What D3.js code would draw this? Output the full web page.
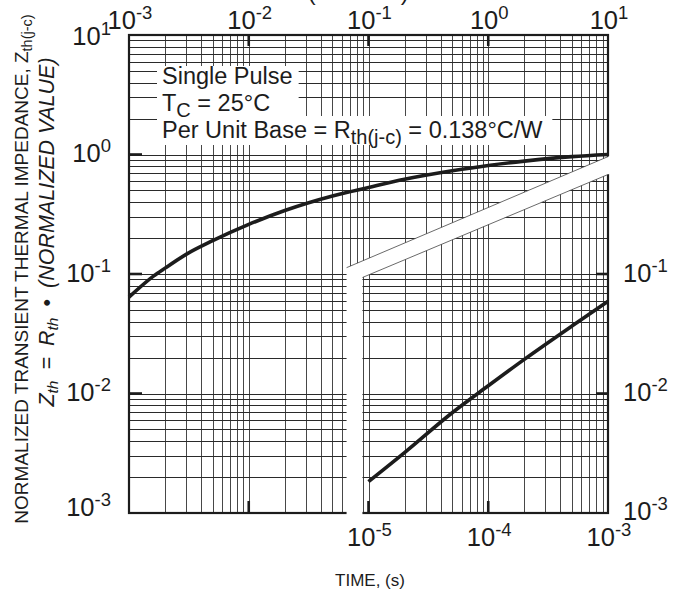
<!DOCTYPE html>
<html>
<head>
<meta charset="utf-8">
<script src="https://cdn.jsdelivr.net/npm/d3@7"></script>
<style>
  html, body { margin: 0; padding: 0; background: #fff; }
  svg { display: block; font-family: "Liberation Sans", Arial, Helvetica, sans-serif; }
</style>
</head>
<body>
<svg id="chart" width="685" height="592"></svg>
<script>
// Long-pulse response, read against the upper time scale (1 ms .. 10 s)
const longTime = [1e-3, 1.6e-3, 2e-3, 3e-3, 5e-3, 1e-2, 2e-2, 5e-2, 0.1, 0.2, 0.5, 1, 2, 5, 10];
const longZth  = [0.064, 0.096, 0.112, 0.146, 0.19, 0.26, 0.34, 0.45, 0.53, 0.62, 0.73, 0.81, 0.88, 0.96, 1.0];

// Short-pulse response, read against the lower time scale (10 us .. 1 ms)
const shortTime = [1e-5, 2e-5, 5e-5, 1e-4, 2e-4, 5e-4, 1e-3];
const shortZth  = [0.00183, 0.0032, 0.0069, 0.0116, 0.0193, 0.0367, 0.059];

// Axis tick values
const topTicks    = [1e-3, 1e-2, 1e-1, 1, 10];
const bottomTicks = [1e-5, 1e-4, 1e-3];
const leftTicks   = [10, 1, 0.1, 0.01, 0.001];
const rightTicks  = [0.1, 0.01, 0.001];

// Break between the two time scales, in upper-scale time / Zth units
const breakUpperEdge = [[0.0656, 0.113], [10, 0.96]];
const breakLowerEdge = [[0.089, 0.0935], [10, 0.68]];

const legendLines = [
  [{t: "Single Pulse"}],
  [{t: "T"}, {t: "C", sub: true}, {t: " = 25°C"}],
  [{t: "Per Unit Base = R"}, {t: "th(j-c)", sub: true}, {t: " = 0.138°C/W"}]
];

const svg = d3.select("#chart");
const L = 129, R = 608, T = 35, B = 513;
const ink = "#1c1c1c";

const xTop = d3.scaleLog().domain([1e-3, 10]).range([L, R]);
const xBot = d3.scaleLog().domain([1e-7, 1e-3]).range([L, R]);
const y    = d3.scaleLog().domain([1e-3, 10]).range([B, T]);

const crisp = v => Math.round(v) + 0.5;

// ---- log grid ----
const gridVals = [];
for (let e = -3; e <= 0; e++) for (let k = 1; k <= 9; k++) gridVals.push(k * Math.pow(10, e));
gridVals.push(10);

const grid = svg.append("g");
grid.selectAll("line.v").data(gridVals).join("line")
  .attr("x1", d => crisp(xTop(d))).attr("x2", d => crisp(xTop(d)))
  .attr("y1", T).attr("y2", B)
  .attr("stroke", "#474747").attr("stroke-width", 1);
grid.selectAll("line.h").data(gridVals).join("line")
  .attr("y1", d => crisp(y(d))).attr("y2", d => crisp(y(d)))
  .attr("x1", L).attr("x2", R)
  .attr("stroke", "#2a2a2a").attr("stroke-width", 1);

// ---- heavy decade ticks inside the frame ----
const ticks = svg.append("g").attr("stroke", ink).attr("stroke-width", 2.6);
ticks.selectAll("line.t").data(topTicks.slice(1, -1)).join("line")
  .attr("x1", d => xTop(d)).attr("x2", d => xTop(d)).attr("y1", T).attr("y2", T + 11);
ticks.selectAll("line.b").data([1e-6, 1e-5, 1e-4]).join("line")
  .attr("x1", d => xBot(d)).attr("x2", d => xBot(d)).attr("y1", B).attr("y2", B - 12);
ticks.selectAll("line.l").data(leftTicks.slice(1, -1)).join("line")
  .attr("y1", d => y(d)).attr("y2", d => y(d)).attr("x1", L).attr("x2", L + 13);
ticks.selectAll("line.r").data(rightTicks.slice(0, -1)).join("line")
  .attr("y1", d => y(d)).attr("y2", d => y(d)).attr("x1", R).attr("x2", R - 12);

// ---- frame ----
svg.append("rect").attr("x", L).attr("y", T).attr("width", R - L).attr("height", B - T)
  .attr("fill", "none").attr("stroke", ink).attr("stroke-width", 2.2);

// ---- scale break band ----
const pU0 = [xTop(breakUpperEdge[0][0]), y(breakUpperEdge[0][1])];
const pU1 = [xTop(breakUpperEdge[1][0]), y(breakUpperEdge[1][1])];
const pL0 = [xTop(breakLowerEdge[0][0]), y(breakLowerEdge[0][1])];
const pL1 = [xTop(breakLowerEdge[1][0]), y(breakLowerEdge[1][1])];
const ext = (p0, p1, dx) => [p1[0] + dx, p1[1] + (p1[1] - p0[1]) / (p1[0] - p0[0]) * dx];
const band = [pU0, ext(pU0, pU1, 4), ext(pL0, pL1, 4), pL0, [pL0[0], B + 5], [pU0[0], B + 5]];
svg.append("polygon").attr("points", band.map(p => p.join(",")).join(" "))
  .attr("fill", "#fff");
svg.append("line").attr("x1", pU0[0]).attr("y1", pU0[1]).attr("x2", pU1[0]).attr("y2", pU1[1])
  .attr("stroke", "#444").attr("stroke-width", 0.8);
svg.append("line").attr("x1", pL0[0]).attr("y1", pL0[1]).attr("x2", pL1[0]).attr("y2", pL1[1])
  .attr("stroke", "#444").attr("stroke-width", 0.8);

// ---- curves ----
const curveLine = xs => d3.line().x(d => xs(d[0])).y(d => y(d[1])).curve(d3.curveMonotoneX);
svg.append("path").datum(d3.zip(longTime, longZth))
  .attr("d", curveLine(xTop)).attr("fill", "none").attr("stroke", ink).attr("stroke-width", 3.6);
svg.append("path").datum(d3.zip(shortTime, shortZth))
  .attr("d", curveLine(xBot)).attr("fill", "none").attr("stroke", ink).attr("stroke-width", 3.6);

// ---- legend text on white backing ----
const lg = svg.append("g");
const legendFs = 23.5;
const legendBase = [84, 111, 138];
const boxes = lg.append("g");
const texts = legendLines.map((parts, i) => {
  const t = lg.append("text").attr("x", 162).attr("y", legendBase[i])
    .attr("font-size", legendFs).attr("fill", ink);
  let shifted = false;
  parts.forEach(p => {
    const s = t.append("tspan").text(p.t);
    if (p.sub) { s.attr("font-size", 20).attr("dy", 6); shifted = true; }
    else if (shifted) { s.attr("dy", -6); shifted = false; }
  });
  return t;
});
const w = texts.map(t => t.node().getBBox().width);
const w12 = Math.max(w[0], w[1]);
boxes.append("rect").attr("x", 157).attr("y", 66).attr("width", w12 + 11).attr("height", 51).attr("fill", "#fff");
boxes.append("rect").attr("x", 157).attr("y", 116).attr("width", w[2] + 14).attr("height", 29).attr("fill", "#fff");

// ---- tick labels with superscript exponents ----
function powerLabel(g, v, x, yy, anchor) {
  const e = Math.round(Math.log10(v));
  const t = g.append("text").attr("x", x).attr("y", yy).attr("text-anchor", anchor)
    .attr("font-size", 25.5).attr("fill", ink);
  t.append("tspan").text("10");
  t.append("tspan").attr("font-size", 18.5).attr("dy", -10).text(String(e));
  return t;
}
const labels = svg.append("g");
topTicks.forEach(v => powerLabel(labels, v, xTop(v) + 1, 29, "middle"));
bottomTicks.forEach(v => powerLabel(labels, v, xBot(v) + 1, 546, "middle"));
leftTicks.forEach(v => powerLabel(labels, v, 111, Math.min(Math.max(y(v) + 7.5, 45), 516), "end"));
rightTicks.forEach(v => powerLabel(labels, v, 623, Math.min(y(v) + 7.5, 520), "start"));

// ---- axis titles ----
svg.append("text").attr("x", 370).attr("y", 586).attr("text-anchor", "middle")
  .attr("font-size", 17).attr("fill", ink).text("TIME, (s)");

const yt1 = svg.append("text").attr("transform", "translate(28,269) rotate(-90)")
  .attr("text-anchor", "middle").attr("font-size", 19).attr("fill", ink);
yt1.append("tspan").text("NORMALIZED TRANSIENT THERMAL IMPEDANCE, Z");
yt1.append("tspan").attr("font-size", 14.5).attr("dy", 4).text("th(j-c)");

// second title line: the normalisation formula, set with open spacing around its operators
const yt2 = svg.append("text").attr("transform", "translate(54,232) rotate(-90)")
  .attr("text-anchor", "middle").attr("font-size", 21.5).attr("font-style", "italic").attr("fill", ink);
yt2.append("tspan").text("Z");
yt2.append("tspan").attr("font-size", 15.5).attr("dy", 4).text("th");
yt2.append("tspan").attr("dy", -4).attr("dx", 11).text("=");
yt2.append("tspan").attr("dx", 11).text("R");
yt2.append("tspan").attr("font-size", 15.5).attr("dy", 4).text("th");
yt2.append("tspan").attr("dy", -4).attr("dx", 11).attr("font-style", "normal").text("•");
yt2.append("tspan").attr("dx", 11).text("(NORMALIZED VALUE)");

// ---- chart heading (runs off the top edge) ----
svg.append("text").attr("x", 359).attr("y", 0).attr("text-anchor", "middle")
  .attr("font-size", 24).attr("letter-spacing", 1.5).attr("fill", ink).text("(DIODE)");
</script>
</body>
</html>
